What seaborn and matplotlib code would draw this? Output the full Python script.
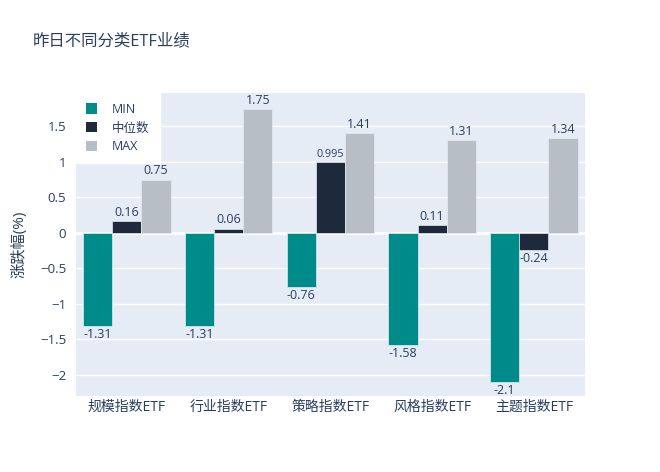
import pandas as pd
import matplotlib.pyplot as plt
import matplotlib.patches as mpatches
from matplotlib.ticker import FuncFormatter
import seaborn as sns

# 数据
categories = ['规模指数ETF', '行业指数ETF', '策略指数ETF', '风格指数ETF', '主题指数ETF']
min_vals = [-1.31, -1.31, -0.76, -1.58, -2.1]
med_vals = [0.16, 0.06, 0.995, 0.11, -0.24]
max_vals = [0.75, 1.75, 1.41, 1.31, 1.34]
series = ['MIN', '中位数', 'MAX']
colors = ['#008b8b', '#1e293b', '#b8bec6']

df = pd.DataFrame({
    'cat': categories * 3,
    'val': min_vals + med_vals + max_vals,
    'series': [s for s in series for _ in categories],
})

sns.set_style('dark')
plt.rcParams['font.family'] = ['Open Sans', 'Noto Sans CJK SC', 'DejaVu Sans']
txt = '#2a3f5f'

fig = plt.figure(figsize=(6.6, 4.72), dpi=100)
ax = fig.add_axes([0.115, 0.161, 0.771, 0.642])
ax.set_facecolor('#e5ecf6')

sns.barplot(data=df, x='cat', y='val', hue='series', hue_order=series,
            palette=colors, saturation=1, width=0.86, gap=0, errorbar=None,
            edgecolor='#e5ecf6', linewidth=0.5, legend=False, ax=ax, zorder=3)

ax.set_ylim(-2.3, 1.97)
ax.set_xlim(-0.5, 4.5)
ax.set_yticks([-2, -1.5, -1, -0.5, 0, 0.5, 1, 1.5])
ax.yaxis.set_major_formatter(FuncFormatter(lambda v, p: f'{v:g}'.replace('-', '\u2212')))
ax.grid(axis='y', color='white', linewidth=1, zorder=0)
ax.axhline(0, color='white', linewidth=2, zorder=2)
ax.set_axisbelow(True)
for s in ax.spines.values():
    s.set_visible(False)
ax.tick_params(axis='both', length=0, colors=txt, labelsize=9.5)
ax.tick_params(axis='x', labelsize=10, pad=3)
ax.tick_params(axis='y', pad=7)
ax.set_xlabel('')
ax.set_ylabel('涨跌幅(%)', fontsize=11, color=txt, labelpad=9)

vals_by_series = [min_vals, med_vals, max_vals]
for cont, vals in zip(ax.containers, vals_by_series):
    labels = [f'{v:g}' for v in vals]
    texts = ax.bar_label(cont, labels=labels, padding=1.5, fontsize=9, color=txt)
    for t, v in zip(texts, vals):
        if v == 0.995:
            t.set_fontsize(7.8)

handles = [mpatches.Patch(facecolor=c, edgecolor='none', label=s) for s, c in zip(series, colors)]
leg = ax.legend(handles=handles, loc='upper left', bbox_to_anchor=(0, 1),
                borderaxespad=0, frameon=True, fancybox=False, fontsize=9,
                handlelength=0.9, handleheight=0.9, handletextpad=1.2,
                borderpad=0.8, labelspacing=0.45)
leg.get_frame().set_facecolor('white')
leg.get_frame().set_edgecolor('white')
leg.get_frame().set_alpha(1)
for t in leg.get_texts():
    t.set_color(txt)

fig.text(0.05, 0.913, '昨日不同分类ETF业绩', fontsize=11.8, color=txt, va='center')

fig.savefig('out.png', dpi=100, facecolor='white')
